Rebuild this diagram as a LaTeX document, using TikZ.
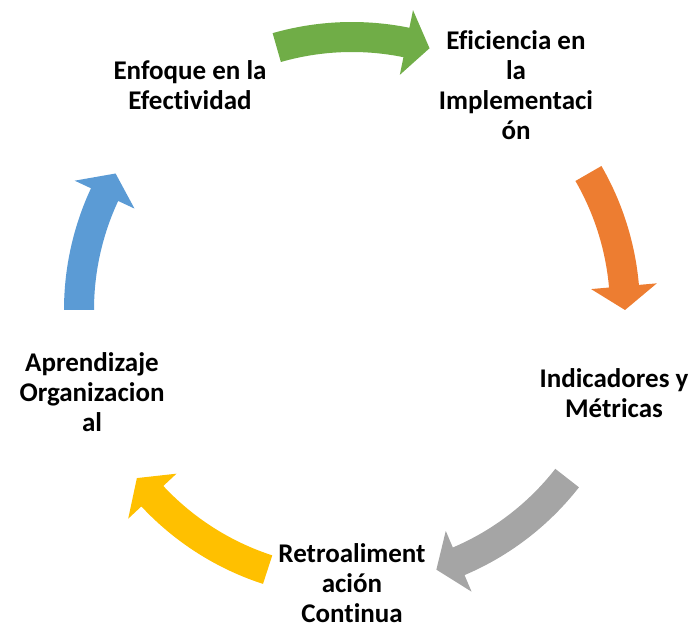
\documentclass[tikz,border=0pt]{standalone}
\usepackage{fontspec}
\setmainfont{Carlito}[Ligatures={NoCommon}]
\definecolor{cgreen}{HTML}{70AD47}
\definecolor{corange}{HTML}{ED7D31}
\definecolor{cgray}{HTML}{A5A5A5}
\definecolor{cyellow}{HTML}{FFC000}
\definecolor{cblue}{HTML}{5B9BD5}
\newcommand\cycarrow[3]{%
  \fill[#1] (#2:288pt) arc[start angle=#2, end angle=#3+5, radius=288pt]
    -- (#3+5:306pt) -- (#3:273pt) -- (#3+5:240pt) -- (#3+5:258pt)
    arc[start angle=#3+5, end angle=#2, radius=258pt] -- cycle;}
\begin{document}
\begin{tikzpicture}[x=1pt,y=1pt,
  lbl/.style={font=\fontsize{27pt}{30pt}\selectfont\bfseries, align=center, inner sep=0pt, anchor=base}]
\useasboundingbox (0,0) rectangle (696,627);
\begin{scope}[shift={(352,317)}]
  \cycarrow{cgreen}{106}{73.5}
  \cycarrow{corange}{30}{0}
  \cycarrow{cgray}{-38}{-72}
  \cycarrow{cyellow}{-108}{-142}
  \cycarrow{cblue}{180}{150}
\end{scope}
\node[lbl] (n1) at (190,517) {Enfoque en la\\Efectividad};
\node[lbl] (n2) at (516,487) {Eficiencia en\\la\\Implementaci\\ón};
\node[lbl] (n3) at (614,209) {Indicadores y\\Métricas};
\node[lbl] (n4) at (352,5) {Retroaliment\\ación\\Continua};
\node[lbl] (n5) at (92,195) {Aprendizaje\\Organizacion\\al};
\end{tikzpicture}
\end{document}
